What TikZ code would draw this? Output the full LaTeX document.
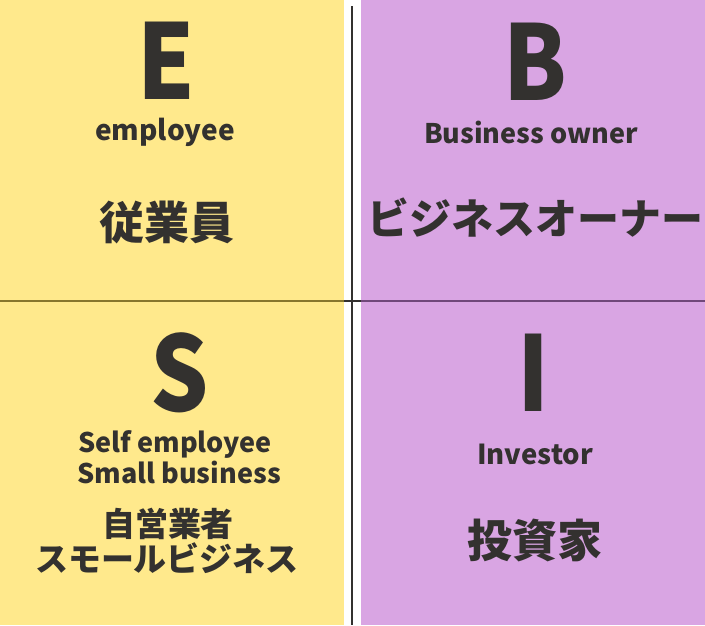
\documentclass[tikz,border=0pt]{standalone}
\usepackage{fontspec}
\setmainfont{Noto Sans CJK JP}
\definecolor{ylw}{RGB}{255,233,140}
\definecolor{prp}{RGB}{217,165,227}
\definecolor{inkc}{RGB}{51,49,47}
\definecolor{lineY}{RGB}{135,118,45}
\definecolor{lineP}{RGB}{112,72,122}
\tikzset{
  lbl/.style={text=inkc,inner sep=0pt,anchor=base},
  big/.style={lbl,font=\bfseries\fontsize{104}{104}\selectfont,xscale=0.88,transform shape},
  en/.style={lbl,font=\bfseries\fontsize{#1}{#1}\selectfont},
  jp/.style={lbl,font=\bfseries\fontsize{#1}{#1}\selectfont},
}
\begin{document}
\begin{tikzpicture}[x=1pt,y=-1pt]
\useasboundingbox (0,0) rectangle (705,625);
% quadrants
\fill[ylw] (0,0) rectangle (344,625);
\fill[prp] (361,0) rectangle (705,625);
% dividing lines
\fill[lineY] (0,300) rectangle (344,302);
\fill[inkc] (344,300) rectangle (361,302);
\fill[lineP] (361,300) rectangle (705,302);
\coordinate (vtop) at (352,6);
\coordinate (vbot) at (352,625);
\draw[inkc,line width=2pt] (vtop) -- (vbot);
% E
\node[big] (E) at (166,99) {E};
\node[en=28] (Een) at (165,140) {employee};
\node[jp=45] (Ejp) at (167,239) {従業員};
% B
\node[big] (B) at (535,100) {B};
\node[en=27] (Ben) at (531,143) {Business owner};
\node[jp=42] (Bjp) at (535,234) {ビジネスオーナー};
% S
\node[big] (S) at (180,411) {S};
\node[en=27] (Sen1) at (175,452) {Self employee};
\node[en=27] (Sen2) at (179,483) {Small business};
\node[jp=33] (Sjp1) at (168,536) {自営業者};
\node[jp=33] (Sjp2) at (167,571) {スモールビジネス};
% I
\node[big] (I) at (534,411) {I};
\node[en=27.5] (Ien) at (535,464) {Investor};
\node[jp=45] (Ijp) at (535,557) {投資家};
\end{tikzpicture}
\end{document}
